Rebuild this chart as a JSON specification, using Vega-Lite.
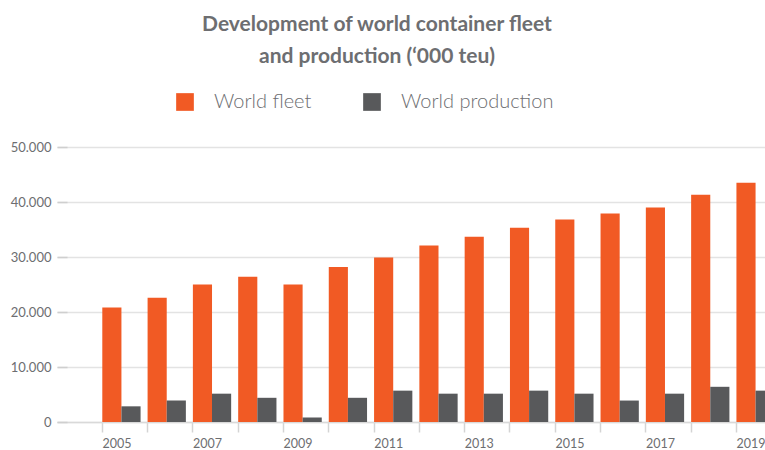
{
  "$schema": "https://vega.github.io/schema/vega-lite/v6.json",
  "autosize": {"type": "none"},
  "width": 708,
  "height": 275,
  "padding": {"left": 57, "top": 147, "right": 0, "bottom": 28},
  "background": "white",
  "title": {
    "text": ["Development of world container fleet", "and production (‘000 teu)"],
    "font": "Lato",
    "fontSize": 21,
    "fontWeight": "bold",
    "color": "#6d6e71",
    "lineHeight": 32,
    "anchor": "middle",
    "frame": "group",
    "dx": -34,
    "offset": 25
  },
  "data": {
    "values": [
      {"year": "2005", "series": "World fleet", "value": 20800},
      {"year": "2005", "series": "World production", "value": 2850},
      {"year": "2006", "series": "World fleet", "value": 22600},
      {"year": "2006", "series": "World production", "value": 3900},
      {"year": "2007", "series": "World fleet", "value": 25000},
      {"year": "2007", "series": "World production", "value": 5150},
      {"year": "2008", "series": "World fleet", "value": 26400},
      {"year": "2008", "series": "World production", "value": 4400},
      {"year": "2009", "series": "World fleet", "value": 25000},
      {"year": "2009", "series": "World production", "value": 800},
      {"year": "2010", "series": "World fleet", "value": 28200},
      {"year": "2010", "series": "World production", "value": 4400},
      {"year": "2011", "series": "World fleet", "value": 29900},
      {"year": "2011", "series": "World production", "value": 5700},
      {"year": "2012", "series": "World fleet", "value": 32100},
      {"year": "2012", "series": "World production", "value": 5150},
      {"year": "2013", "series": "World fleet", "value": 33700},
      {"year": "2013", "series": "World production", "value": 5150},
      {"year": "2014", "series": "World fleet", "value": 35300},
      {"year": "2014", "series": "World production", "value": 5700},
      {"year": "2015", "series": "World fleet", "value": 36800},
      {"year": "2015", "series": "World production", "value": 5150},
      {"year": "2016", "series": "World fleet", "value": 37900},
      {"year": "2016", "series": "World production", "value": 3900},
      {"year": "2017", "series": "World fleet", "value": 39000},
      {"year": "2017", "series": "World production", "value": 5150},
      {"year": "2018", "series": "World fleet", "value": 41300},
      {"year": "2018", "series": "World production", "value": 6400},
      {"year": "2019", "series": "World fleet", "value": 43500},
      {"year": "2019", "series": "World production", "value": 5700}
    ]
  },
  "mark": {"type": "bar"},
  "encoding": {
    "x": {
      "field": "year",
      "type": "ordinal",
      "scale": {"range": [0, 763], "paddingInner": 0.155, "paddingOuter": 1},
      "axis": {
        "title": null,
        "labelAngle": 0,
        "bandPosition": 0,
        "labelAlign": "left",
        "labelOffset": -19,
        "labelExpr": "toNumber(datum.value) % 2 == 1 ? datum.label : ''",
        "labelFont": "Lato",
        "labelFontSize": 12.5,
        "labelColor": "#6d6e71",
        "labelPadding": 5,
        "tickSize": 10,
        "tickColor": "#d4d4d4",
        "tickWidth": 1.5,
        "domainColor": "#d9d9d9",
        "domainWidth": 1.5,
        "grid": false
      }
    },
    "xOffset": {
      "field": "series",
      "type": "nominal",
      "sort": ["World fleet", "World production"],
      "scale": {"paddingInner": 0, "paddingOuter": 0}
    },
    "y": {
      "field": "value",
      "type": "quantitative",
      "scale": {"domain": [0, 50000], "nice": false},
      "axis": {
        "title": null,
        "values": [0, 10000, 20000, 30000, 40000, 50000],
        "labelExpr": "replace(format(datum.value, ','), ',', '.')",
        "labelFont": "Lato",
        "labelFontSize": 13,
        "labelColor": "#6d6e71",
        "labelPadding": 16,
        "domain": false,
        "tickSize": -10,
        "tickColor": "#cfcfcf",
        "tickWidth": 1.5,
        "grid": true,
        "gridColor": "#e3e3e3",
        "gridWidth": 1.5
      }
    },
    "color": {
      "field": "series",
      "type": "nominal",
      "scale": {"domain": ["World fleet", "World production"], "range": ["#f15a24", "#58595b"]},
      "legend": {
        "title": null,
        "orient": "none",
        "legendX": 118,
        "legendY": -55,
        "direction": "horizontal",
        "padding": 0,
        "symbolType": "square",
        "symbolSize": 313,
        "symbolStrokeWidth": 0,
        "labelFont": "Lato",
        "labelFontSize": 20,
        "labelFontWeight": 300,
        "labelColor": "#6d6e71",
        "labelOffset": 19,
        "columnPadding": 50,
        "labelLimit": 400
      }
    }
  },
  "config": {
    "view": {"stroke": null}
  }
}
